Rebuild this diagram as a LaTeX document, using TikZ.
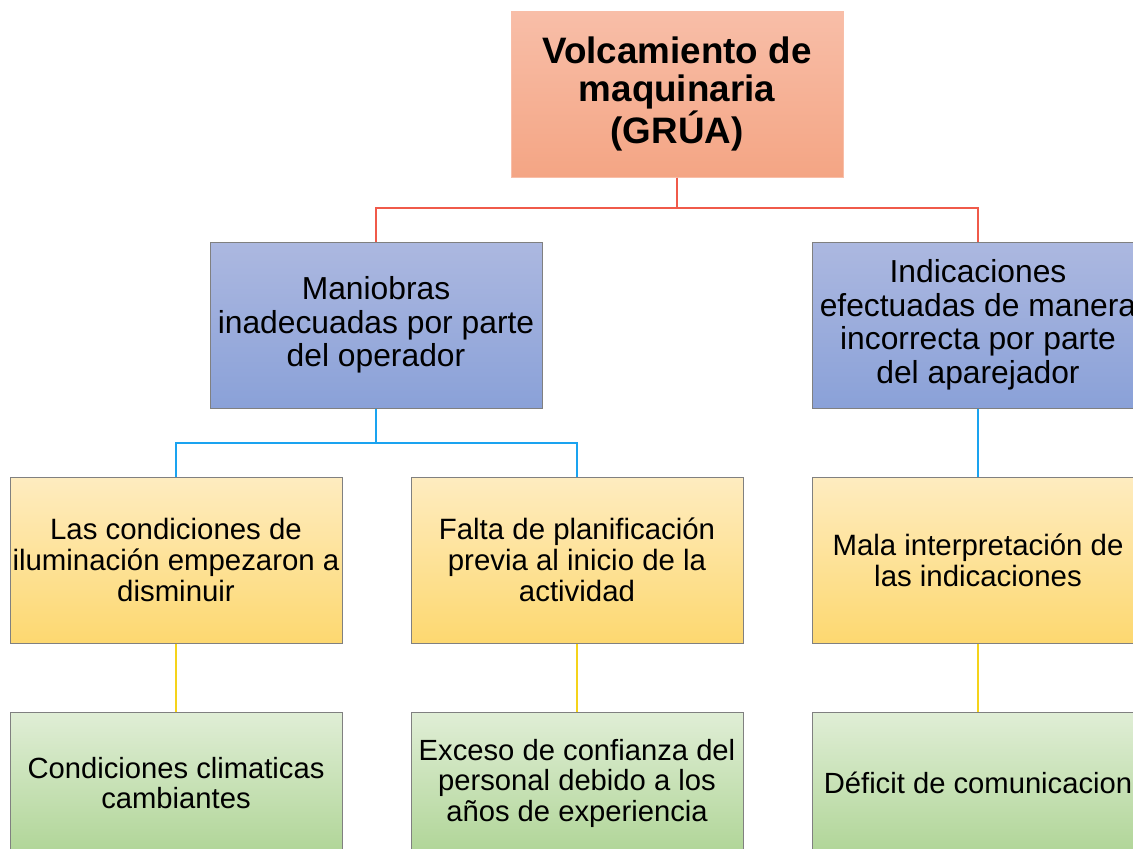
\documentclass[tikz,border=0pt]{standalone}
\usepackage{fontspec}
\setmainfont{Liberation Sans}
\usetikzlibrary{positioning}
\definecolor{roottop}{RGB}{248,190,168}
\definecolor{rootbot}{RGB}{244,165,132}
\definecolor{bluetop}{RGB}{172,184,224}
\definecolor{bluebot}{RGB}{138,161,216}
\definecolor{yeltop}{RGB}{254,236,192}
\definecolor{yelbot}{RGB}{253,216,112}
\definecolor{grntop}{RGB}{224,238,214}
\definecolor{grnbot}{RGB}{176,213,151}
\definecolor{boxedge}{RGB}{128,128,128}
\definecolor{redline}{RGB}{240,90,74}
\definecolor{blueline}{RGB}{26,163,240}
\definecolor{yelline}{RGB}{245,211,26}
\tikzset{
    box/.style={draw=boxedge,line width=1pt,minimum width=332pt,minimum height=166pt,inner sep=0pt,align=center,text=black},
    rootbox/.style={box,draw=roottop,top color=roottop,bottom color=rootbot,font=\bfseries\fontsize{36.8}{38}\selectfont},
    causebox/.style={box,top color=bluetop,bottom color=bluebot,font=\fontsize{31.8}{33.5}\selectfont},
    subbox/.style={box,top color=yeltop,bottom color=yelbot,font=\fontsize{29.4}{31}\selectfont},
    rootcause/.style={box,minimum height=142pt,top color=grntop,bottom color=grnbot,font=\fontsize{29.2}{30.5}\selectfont},
    link/.style={line width=2pt}
}

\begin{document}
\begin{tikzpicture}[x=1pt,y=-1pt]
\useasboundingbox (0,0) rectangle (1133,849);
\clip (0,0) rectangle (1133,849);
\node[rootbox] (grua) at (677,94) {Volcamiento de\\maquinaria\\(GRÚA)};
\node[causebox] (maniobras) at (376,325) {Maniobras\\inadecuadas por parte\\del operador};
\node[causebox] (indicaciones) at (978,325) {Indicaciones\\efectuadas de manera\\incorrecta por parte\\del aparejador};
\node[subbox] (iluminacion) at (176,560) {Las condiciones de\\iluminación empezaron a\\disminuir};
\node[subbox] (planificacion) at (577,560) {Falta de planificación\\previa al inicio de la\\actividad};
\node[subbox] (interpretacion) at (978,560) {Mala interpretación de\\las indicaciones};
\node[rootcause] (clima) at (176,783) {Condiciones climaticas\\cambiantes};
\node[rootcause] (confianza) at (577,783) {Exceso de confianza del\\personal debido a los\\años de experiencia};
\node[rootcause] (comunicacion) at (978,783) {Déficit de comunicacion};
% level connectors
\draw[link,redline] (grua.south) -- ++(0,30) -| (maniobras.north);
\draw[link,redline] (grua.south) -- ++(0,30) -| (indicaciones.north);
\draw[link,blueline] (maniobras.south) -- ++(0,34) -| (iluminacion.north);
\draw[link,blueline] (maniobras.south) -- ++(0,34) -| (planificacion.north);
\draw[link,blueline] (indicaciones) -- (interpretacion);
\draw[link,yelline] (iluminacion) -- (clima);
\draw[link,yelline] (planificacion) -- (confianza);
\draw[link,yelline] (interpretacion) -- (comunicacion);
\end{tikzpicture}
\end{document}
